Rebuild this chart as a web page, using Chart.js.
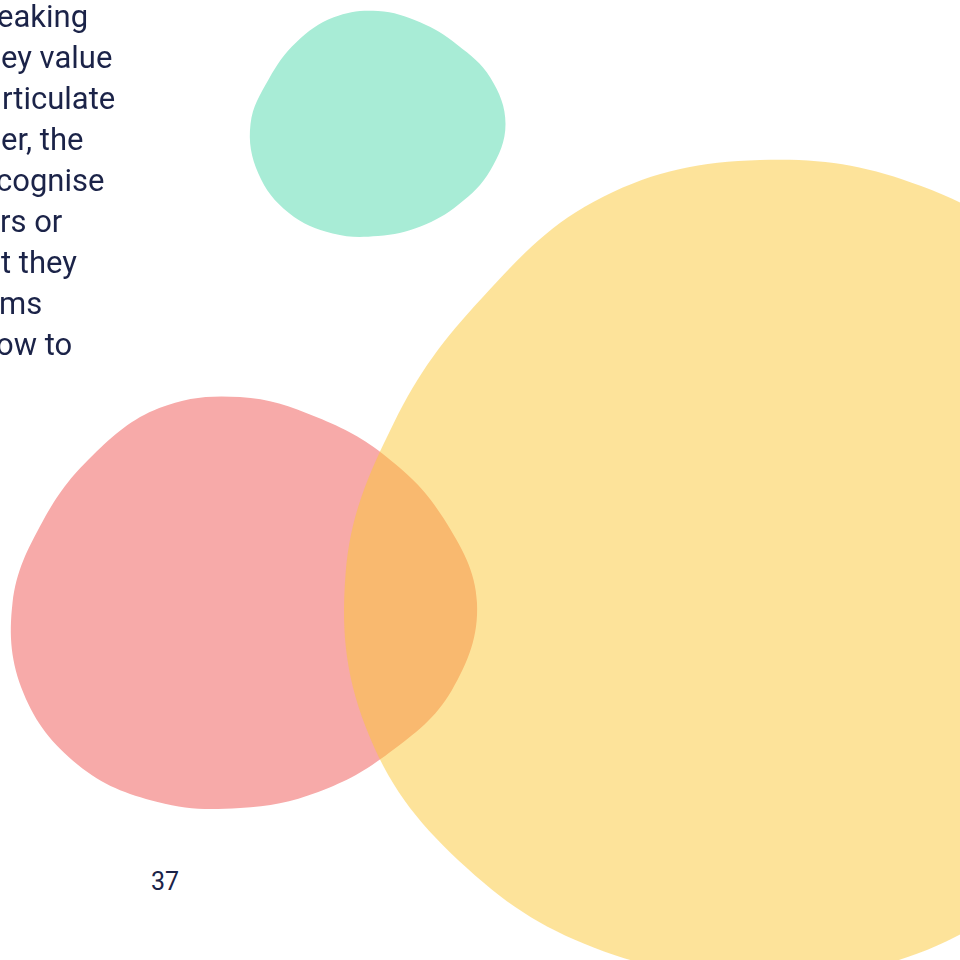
<!DOCTYPE html>
<html>
<head>
<meta charset="utf-8">
<script src="https://cdn.jsdelivr.net/npm/chart.js@4"></script>
<style>
  html, body { margin: 0; padding: 0; background: #fff; }
  body { width: 960px; height: 960px; overflow: hidden; position: relative; }
  canvas { position: absolute; }
  #copy {
    position: absolute; left: 0; top: -4px;
    font-family: Roboto, sans-serif; font-size: 31px; line-height: 41px;
    color: #1b2348; white-space: pre;
  }
  #page {
    position: absolute; left: 151px; top: 869px;
    font-family: Roboto, sans-serif; font-size: 25px; line-height: 1;
    color: #1b2348;
  }
</style>
</head>
<body>
<canvas id="pink"></canvas>
<canvas id="yellow"></canvas>
<canvas id="green"></canvas>
<div id="copy"></div>
<div id="page"></div>
<script>
// direction of each radius, clockwise from straight up
var angles = ['0', '22.5', '45', '67.5', '90', '112.5', '135', '157.5',
              '180', '202.5', '225', '247.5', '270', '292.5', '315', '337.5'];

// blob outlines, as radius per direction
var greenRadius  = [113, 110, 112, 121.5, 127.5, 121.5, 114, 111, 112, 118.5, 126, 129.5, 127.5, 118, 115.5, 115.5];
var pinkRadius   = [206, 201, 207, 220.5, 237, 229, 211.5, 204.5, 205, 215.5, 229, 234.5, 227.5, 213.5, 208.5, 211];
var yellowRadius = [415, 421, 425, 420, 410, 405, 410, 410, 400, 407.5, 414.5, 422.5, 414.5, 396.5, 392.5, 409.5];

var copyLines = ['eaking', 'ey value', 'rticulate', 'er, the', 'cognise', 'rs or', 't they', 'ms', 'ow to'];
var pageNumber = '37';

// horizontal shift of each cut-off line (px)
var lineShift = [-3, 1, 2, 1, -4, 0, 1, -1, -4];

var copy = document.getElementById('copy');
copyLines.forEach(function(t, i){
  var d = document.createElement('div');
  d.textContent = t;
  d.style.marginLeft = lineShift[i] + 'px';
  copy.appendChild(d);
});
document.getElementById('page').textContent = pageNumber;

function blob(id, data, color, cx, cy, max){
  var cv = document.getElementById(id);
  cv.width = max * 2;
  cv.height = max * 2;
  cv.style.left = (cx - max) + 'px';
  cv.style.top = (cy - max) + 'px';
  return new Chart(cv.getContext('2d'), {
    type: 'radar',
    data: {
      labels: angles,
      datasets: [{
        data: data,
        backgroundColor: color,
        borderWidth: 0,
        fill: true,
        tension: 0.38,
        pointRadius: 0
      }]
    },
    options: {
      responsive: false,
      animation: false,
      layout: { padding: 0 },
      plugins: { legend: { display: false }, tooltip: { enabled: false } },
      scales: { r: { min: 0, max: max, display: false } }
    }
  });
}

blob('pink', pinkRadius, '#f7aaa9', 240, 603, 250);
blob('yellow', yellowRadius, 'rgba(251,199,53,0.5)', 760, 575, 440);
blob('green', greenRadius, '#a8ecd6', 378, 124, 140);
</script>
</body>
</html>
